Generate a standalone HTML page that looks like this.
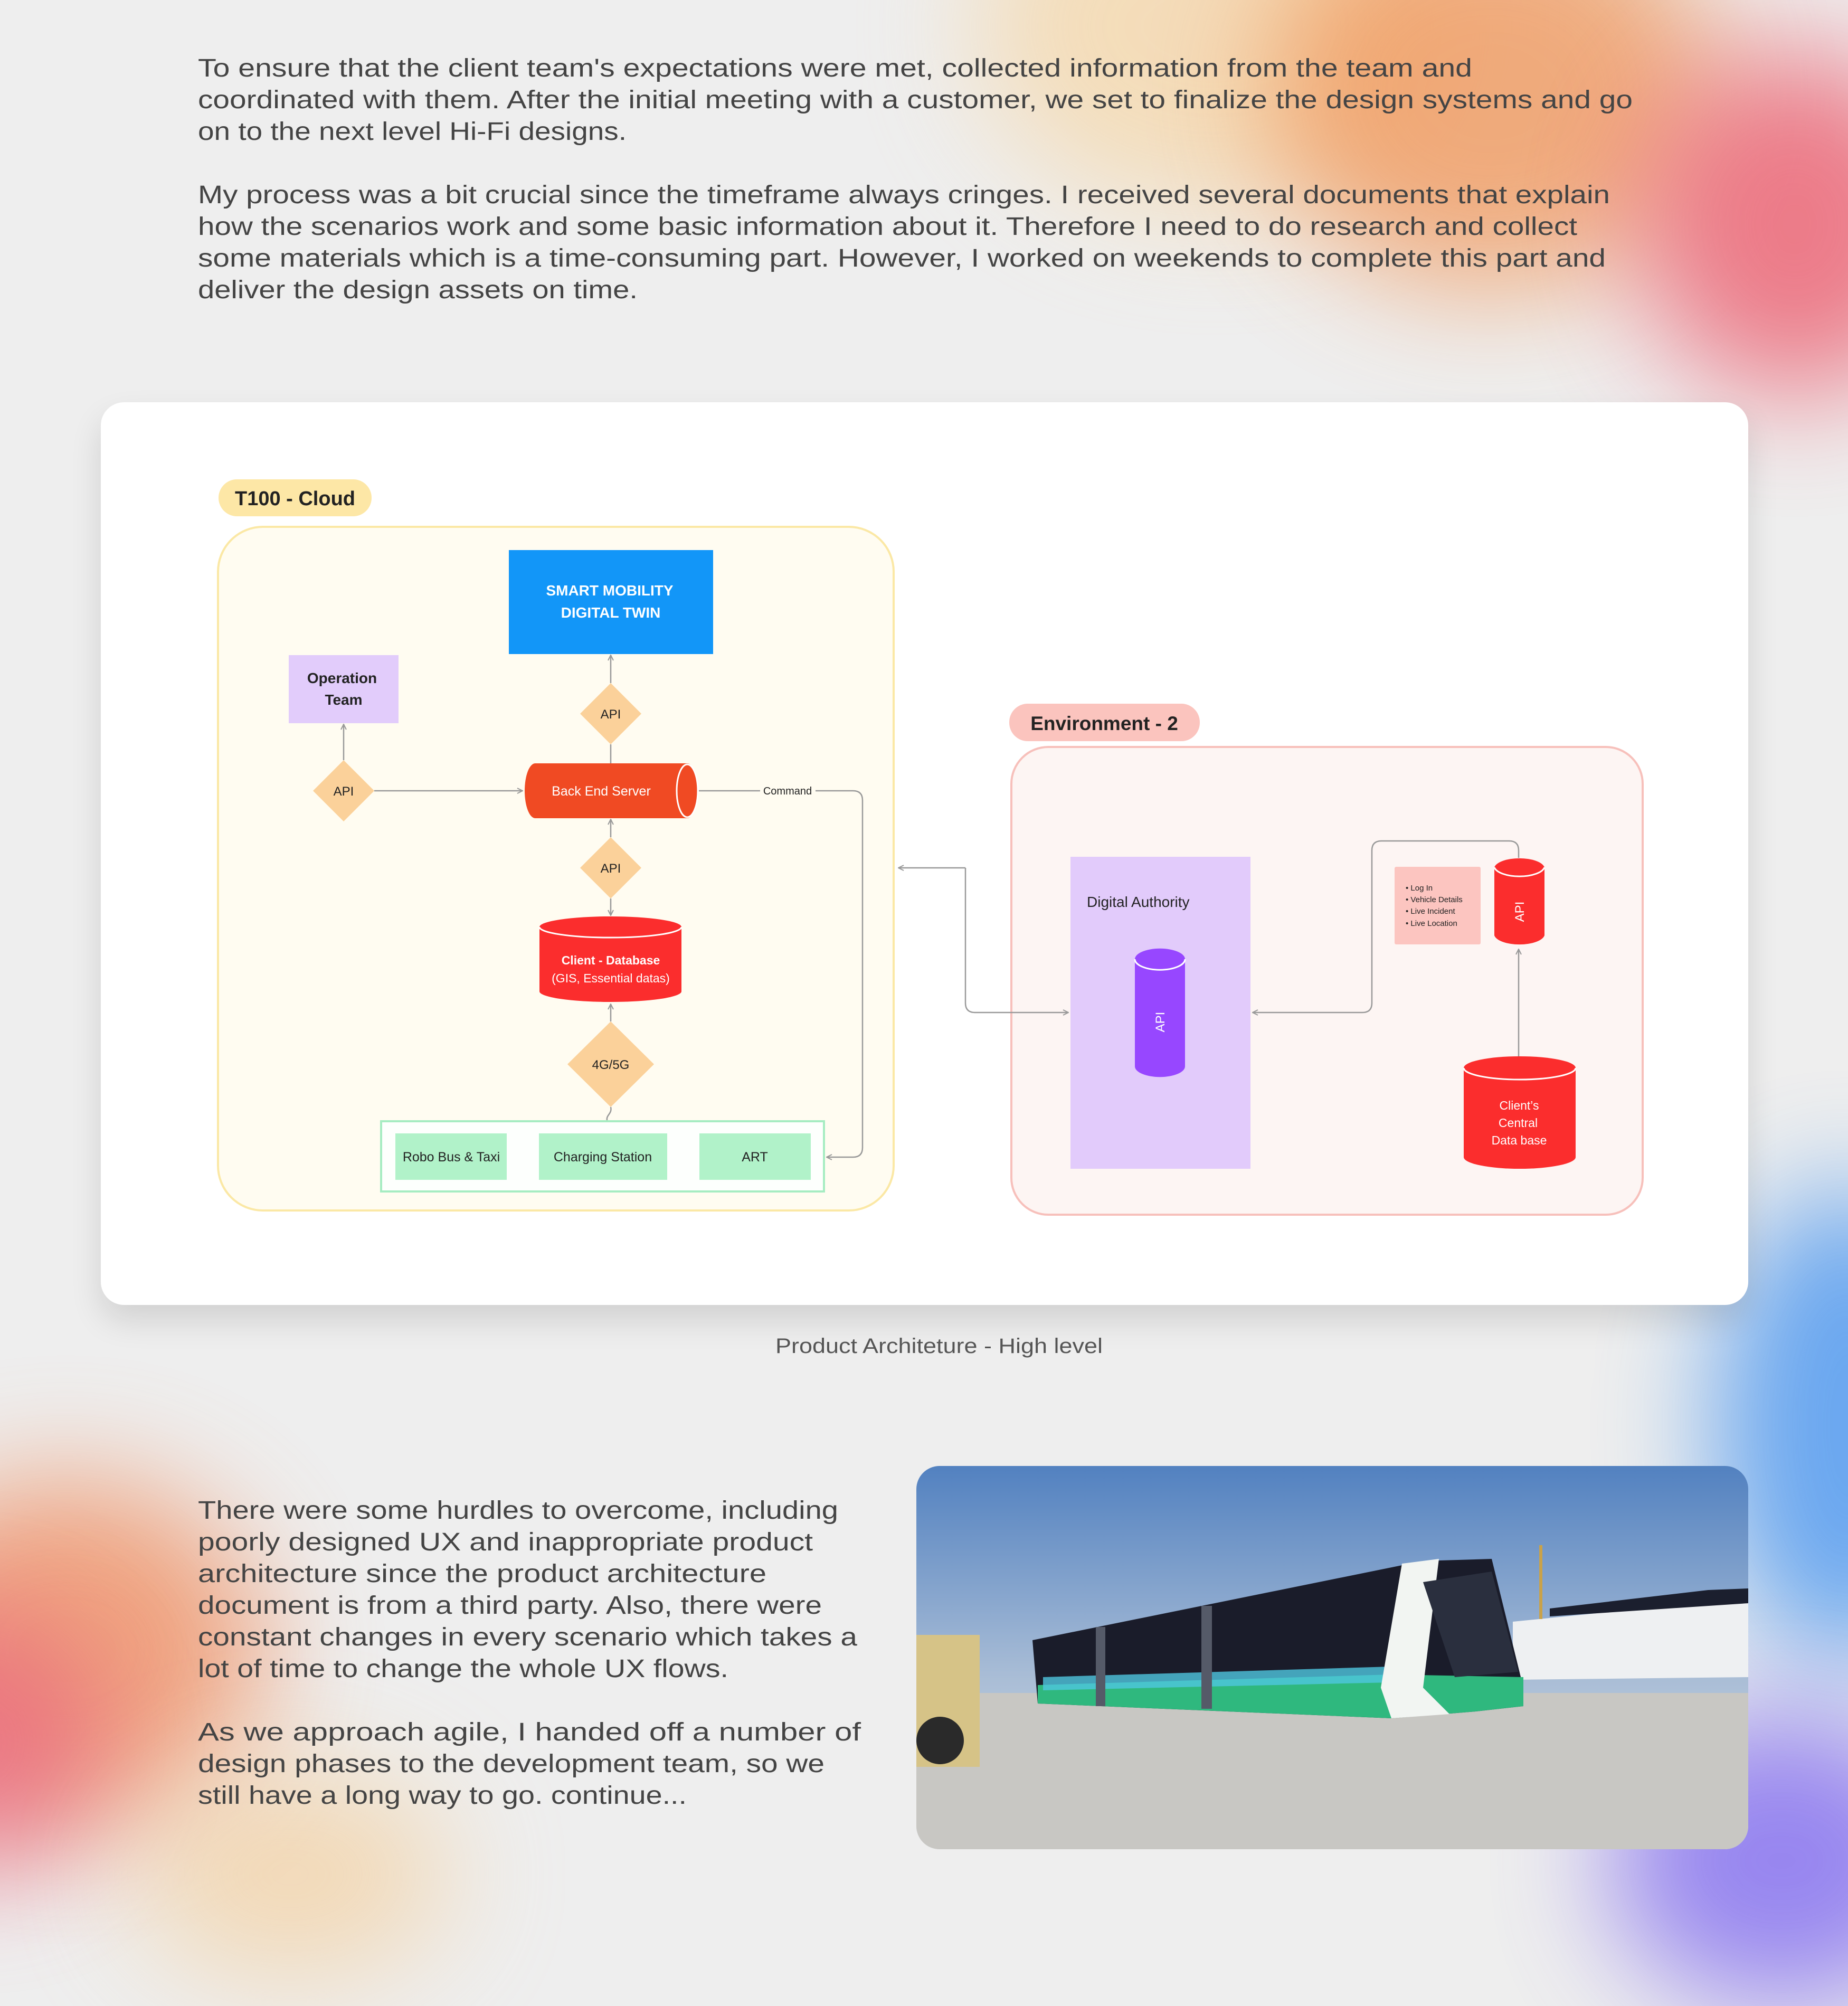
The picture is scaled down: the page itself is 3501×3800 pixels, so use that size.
<!DOCTYPE html>
<html><head><meta charset="utf-8"><style>
html,body{margin:0;padding:0}
body{width:3501px;height:3745px;position:relative;overflow:hidden;background:#eeeeee;font-family:"Liberation Sans",sans-serif}
.blob{position:absolute;border-radius:50%;filter:blur(110px)}
</style></head><body>
<div class="blob" style="left:1850px;top:-300px;width:900px;height:700px;background:#f6d7a8;opacity:.75"></div>
<div class="blob" style="left:2400px;top:-200px;width:850px;height:750px;background:#f09a60;opacity:.8"></div>
<div class="blob" style="left:3100px;top:100px;width:600px;height:650px;background:#ec5f70;opacity:.8"></div>
<div class="blob" style="left:3250px;top:2250px;width:500px;height:900px;background:#3d8ff0;opacity:.75"></div>
<div class="blob" style="left:3050px;top:3250px;width:650px;height:550px;background:#7a63f0;opacity:.75"></div>
<div class="blob" style="left:-250px;top:2800px;width:750px;height:650px;background:#f08a5a;opacity:.75"></div>
<div class="blob" style="left:-300px;top:3050px;width:500px;height:500px;background:#e9617e;opacity:.7"></div>
<div class="blob" style="left:250px;top:3350px;width:600px;height:400px;background:#f6c88a;opacity:.55"></div>

<div style="position:absolute;left:191px;top:762px;width:3121px;height:1710px;background:#fff;border-radius:44px;box-shadow:0 30px 60px rgba(0,0,0,.12)"></div>

<div style="position:absolute;left:1736px;top:2777px;width:1576px;height:726px;border-radius:44px;overflow:hidden">
<svg width="1576" height="726" viewBox="0 0 1576 726">
<defs><linearGradient id="sky" x1="0" y1="0" x2="0" y2="1"><stop offset="0" stop-color="#5281c0"/><stop offset=".55" stop-color="#a9bdd6"/><stop offset="1" stop-color="#d6dde4"/></linearGradient></defs>
<rect width="1576" height="726" fill="url(#sky)"/>
<rect y="430" width="1576" height="300" fill="#c8c7c3"/>
<polygon points="1130,295 1576,250 1576,400 1130,405" fill="#eef0f2"/>
<polygon points="1200,270 1500,235 1576,232 1576,260 1200,285" fill="#1b1f2e"/>
<rect x="1180" y="150" width="6" height="140" fill="#c9a24a"/>
<polygon points="220,330 960,180 1090,176 1150,420 1150,455 1060,465 900,478 230,450" fill="#1a1c2a"/>
<polygon points="230,415 900,395 1150,400 1150,455 1060,465 900,478 230,450" fill="#2fb87e"/>
<polygon points="240,400 900,380 900,410 240,425" fill="#4fc7e0" opacity=".8"/>
<polygon points="920,185 990,176 960,420 1010,470 900,478 880,420" fill="#f2f5f2"/>
<polygon points="960,220 1090,200 1140,390 1020,400" fill="#2a2f3e"/>
<rect x="540" y="265" width="20" height="195" fill="#555a68"/>
<rect x="340" y="305" width="18" height="150" fill="#555a68"/>
<rect x="0" y="320" width="120" height="250" fill="#d6c387"/>
<circle cx="45" cy="520" r="45" fill="#2a2a2a"/>
</svg></div>

<svg width="3501" height="3745" style="position:absolute;left:0;top:0" viewBox="0 0 3501 3745">
<defs>
<marker id="ar" viewBox="0 0 12 12" refX="11" refY="6" markerWidth="12" markerHeight="12" markerUnits="userSpaceOnUse" orient="auto-start-reverse"><path d="M1,1 L11,6 L1,11" fill="none" stroke="#999" stroke-width="2"/></marker>
</defs>
<g fill="#444" font-size="48">
<text x="375" y="145" textLength="2414" lengthAdjust="spacingAndGlyphs">To ensure that the client team's expectations were met, collected information from the team and</text>
<text x="375" y="205" textLength="2718" lengthAdjust="spacingAndGlyphs">coordinated with them. After the initial meeting with a customer, we set to finalize the design systems and go</text>
<text x="375" y="265" textLength="812" lengthAdjust="spacingAndGlyphs">on to the next level Hi-Fi designs.</text>
<text x="375" y="385" textLength="2675" lengthAdjust="spacingAndGlyphs">My process was a bit crucial since the timeframe always cringes. I received several documents that explain</text>
<text x="375" y="445" textLength="2613" lengthAdjust="spacingAndGlyphs">how the scenarios work and some basic information about it. Therefore I need to do research and collect</text>
<text x="375" y="505" textLength="2667" lengthAdjust="spacingAndGlyphs">some materials which is a time-consuming part. However, I worked on weekends to complete this part and</text>
<text x="375" y="565" textLength="833" lengthAdjust="spacingAndGlyphs">deliver the design assets on time.</text>
<text x="375" y="2877" textLength="1213" lengthAdjust="spacingAndGlyphs">There were some hurdles to overcome, including</text>
<text x="375" y="2937" textLength="1165" lengthAdjust="spacingAndGlyphs">poorly designed UX and inappropriate product</text>
<text x="375" y="2997" textLength="1077" lengthAdjust="spacingAndGlyphs">architecture since the product architecture</text>
<text x="375" y="3057" textLength="1182" lengthAdjust="spacingAndGlyphs">document is from a third party. Also, there were</text>
<text x="375" y="3117" textLength="1249" lengthAdjust="spacingAndGlyphs">constant changes in every scenario which takes a</text>
<text x="375" y="3177" textLength="1005" lengthAdjust="spacingAndGlyphs">lot of time to change the whole UX flows.</text>
<text x="375" y="3297" textLength="1256" lengthAdjust="spacingAndGlyphs">As we approach agile, I handed off a number of</text>
<text x="375" y="3357" textLength="1187" lengthAdjust="spacingAndGlyphs">design phases to the development team, so we</text>
<text x="375" y="3417" textLength="926" lengthAdjust="spacingAndGlyphs">still have a long way to go. continue...</text>
</g>
<text x="1779" y="2563" text-anchor="middle" font-size="40" fill="#555" textLength="620" lengthAdjust="spacingAndGlyphs">Product Architeture - High level</text>

<!-- containers -->
<rect x="414" y="908" width="290" height="70" rx="35" fill="#fde7a6"/>
<text x="559" y="957" text-anchor="middle" font-size="38" font-weight="bold" fill="#222">T100 - Cloud</text>
<rect x="413" y="998" width="1280" height="1295" rx="85" fill="#fffcf1" stroke="#fbe8a5" stroke-width="4"/>
<rect x="1912" y="1333" width="361" height="71" rx="35" fill="#fbc4be"/>
<text x="2092" y="1383" text-anchor="middle" font-size="37" font-weight="bold" fill="#222">Environment - 2</text>
<rect x="1916" y="1415" width="1196" height="886" rx="70" fill="#fdf5f3" stroke="#f7c0bb" stroke-width="4"/>

<!-- connectors -->
<g fill="none" stroke="#999" stroke-width="2.5">
<line x1="1157" y1="1294" x2="1157" y2="1241" marker-end="url(#ar)"/>
<line x1="1157" y1="1410" x2="1157" y2="1446"/>
<line x1="651" y1="1440" x2="651" y2="1372" marker-end="url(#ar)"/>
<line x1="709" y1="1498" x2="990" y2="1498" marker-end="url(#ar)"/>
<line x1="1157" y1="1586" x2="1157" y2="1552" marker-end="url(#ar)"/>
<line x1="1157" y1="1702" x2="1157" y2="1734" marker-end="url(#ar)"/>
<line x1="1157" y1="1935" x2="1157" y2="1902" marker-end="url(#ar)"/>
<path d="M1157,2097 C1160,2110 1148,2112 1150,2122"/>
<path d="M1324,1498 H1616 Q1634,1498 1634,1516 V2174 Q1634,2192 1616,2192 H1566" marker-end="url(#ar)"/>
<path d="M1829,1644 V1900 Q1829,1918 1847,1918 H2024" marker-end="url(#ar)"/>
<line x1="1829" y1="1644" x2="1702" y2="1644" marker-end="url(#ar)"/>
<path d="M2877,1625 V1611 Q2877,1593 2859,1593 H2617 Q2599,1593 2599,1611 V1900 Q2599,1918 2581,1918 H2373" marker-end="url(#ar)"/>
<line x1="2877" y1="2002" x2="2877" y2="1798" marker-end="url(#ar)"/>
</g>
<rect x="1440" y="1486" width="105" height="26" fill="#fffcf1"/>
<text x="1492" y="1505" text-anchor="middle" font-size="20" fill="#222">Command</text>

<rect x="964" y="1042" width="387" height="197" fill="#1296f8"/>
<text x="1155" y="1128" text-anchor="middle" font-size="28" font-weight="bold" fill="#fff">SMART MOBILITY</text>
<text x="1157" y="1170" text-anchor="middle" font-size="28" font-weight="bold" fill="#fff">DIGITAL TWIN</text>
<rect x="547" y="1241" width="208" height="129" fill="#e2ccfb"/>
<text x="648" y="1294" text-anchor="middle" font-size="28" font-weight="bold" fill="#222">Operation</text>
<text x="651" y="1335" text-anchor="middle" font-size="28" font-weight="bold" fill="#222">Team</text>
<g fill="#fbd19a">
<polygon points="1157,1294 1215,1352 1157,1410 1099,1352"/>
<polygon points="651,1440 709,1498 651,1556 593,1498"/>
<polygon points="1157,1586 1215,1644 1157,1702 1099,1644"/>
<polygon points="1157,1935 1239,2016 1157,2097 1075,2016"/>
</g>
<g font-size="24" fill="#222" text-anchor="middle">
<text x="1157" y="1361">API</text><text x="651" y="1507">API</text><text x="1157" y="1653">API</text><text x="1157" y="2025">4G/5G</text>
</g>
<path d="M1014,1446 H1302 A20,52 0 0 1 1302,1550 H1014 A20,52 0 0 1 1014,1446 Z" fill="#f04a23"/>
<ellipse cx="1302" cy="1498" rx="20" ry="50" fill="#f04a23" stroke="#fff" stroke-width="3"/>
<text x="1139" y="1507" text-anchor="middle" font-size="25" fill="#fff">Back End Server</text>
<path d="M1022,1756 A134,20 0 0 1 1291,1756 V1878 A134,20 0 0 1 1022,1878 Z" fill="#fb2d2d"/>
<path d="M1022,1756 A134,20 0 0 0 1291,1756" fill="none" stroke="#fff" stroke-width="3"/>
<text x="1157" y="1827" text-anchor="middle" font-size="23" font-weight="bold" fill="#fff">Client - Database</text>
<text x="1157" y="1861" text-anchor="middle" font-size="23" fill="#fff">(GIS, Essential datas)</text>
<rect x="722" y="2124" width="839" height="133" fill="#fdfffd" stroke="#a6ecc2" stroke-width="4"/>
<rect x="749" y="2147" width="211" height="88" fill="#b1f2c9"/>
<rect x="1021" y="2147" width="243" height="88" fill="#b1f2c9"/>
<rect x="1325" y="2147" width="211" height="88" fill="#b1f2c9"/>
<g font-size="25" fill="#222" text-anchor="middle">
<text x="855" y="2200">Robo Bus &amp; Taxi</text><text x="1142" y="2200">Charging Station</text><text x="1430" y="2200">ART</text>
</g>

<rect x="2028" y="1623" width="341" height="591" fill="#e2cbfb"/>
<text x="2059" y="1718" font-size="28" fill="#222">Digital Authority</text>
<path d="M2150,1817 A47,20 0 0 1 2245,1817 V2020 A47,20 0 0 1 2150,2020 Z" fill="#9747ff"/>
<path d="M2150,1817 A47,20 0 0 0 2245,1817" fill="none" stroke="#fff" stroke-width="3"/>
<text transform="translate(2206,1936) rotate(-90)" text-anchor="middle" font-size="24" fill="#fff">API</text>
<rect x="2642" y="1642" width="163" height="147" rx="3" fill="#fcc5c0"/>
<g font-size="15" fill="#222">
<text x="2663" y="1687">•  Log In</text><text x="2663" y="1709">•  Vehicle Details</text><text x="2663" y="1731">•  Live Incident</text><text x="2663" y="1754">•  Live Location</text>
</g>
<path d="M2831,1643 A48,20 0 0 1 2926,1643 V1772 A48,20 0 0 1 2831,1772 Z" fill="#fb2d2d"/>
<path d="M2831,1643 A48,20 0 0 0 2926,1643" fill="none" stroke="#fff" stroke-width="3"/>
<text transform="translate(2887,1727) rotate(-90)" text-anchor="middle" font-size="24" fill="#fff">API</text>
<path d="M2773,2023 A106,22 0 0 1 2985,2023 V2192 A106,22 0 0 1 2773,2192 Z" fill="#fb2d2d"/>
<path d="M2773,2023 A106,22 0 0 0 2985,2023" fill="none" stroke="#fff" stroke-width="3"/>
<g font-size="23" fill="#fff" text-anchor="middle">
<text x="2878" y="2102">Client’s</text><text x="2876" y="2135">Central</text><text x="2878" y="2168">Data base</text>
</g>
</svg>
</body></html>
